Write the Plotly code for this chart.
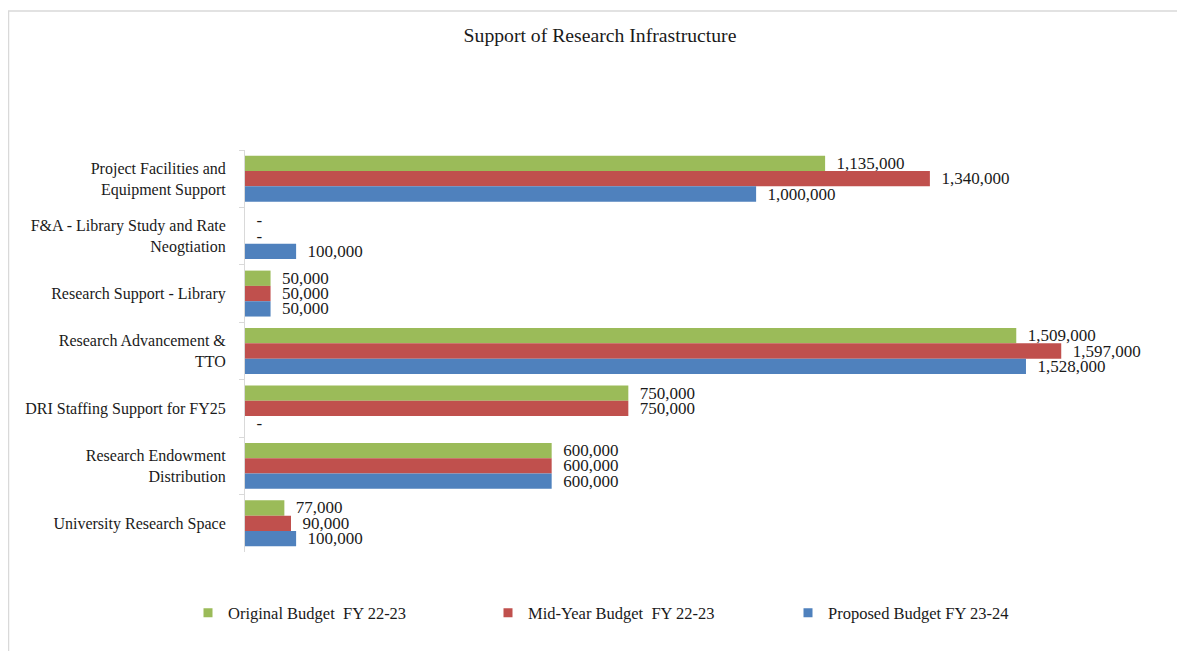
import plotly.graph_objects as go

categories = [
    "Project Facilities and<br>Equipment Support",
    "F&A - Library Study and Rate<br>Neogtiation",
    "Research Support - Library",
    "Research Advancement &<br>TTO",
    "DRI Staffing Support for FY25",
    "Research Endowment<br>Distribution",
    "University Research Space",
]
original_fy2223 = [1135000, 0, 50000, 1509000, 750000, 600000, 77000]
midyear_fy2223 = [1340000, 0, 50000, 1597000, 750000, 600000, 90000]
proposed_fy2324 = [1000000, 100000, 50000, 1528000, 0, 600000, 100000]

series = [
    ("Original Budget\u00a0 FY 22-23", original_fy2223, "#9BBB59"),
    ("Mid-Year Budget\u00a0 FY 22-23", midyear_fy2223, "#C0504D"),
    ("Proposed Budget FY 23-24", proposed_fy2324, "#4F81BD"),
]

FONT = "Liberation Serif, Times New Roman, serif"
TXT = "#1a1a1a"
# page is rendered with an 8px body margin
W, H = 1169, 643
L, R, T, B = 237, 12, 142, 99

def lab(v):
    return "\u00a0\u00a0" + (f"{v:,}" if v else "-")

fig = go.Figure()
for name, vals, col in series:
    fig.add_trace(go.Bar(
        name=name, y=categories, x=vals, orientation="h",
        marker=dict(color=col, line=dict(width=0)),
        text=[lab(v) for v in vals], textposition="outside",
        textfont=dict(family=FONT, size=17, color=TXT),
        constraintext="none", cliponaxis=False, hoverinfo="skip",
        showlegend=False,
    ))
# legend entries with small square swatches
for name, vals, col in series:
    fig.add_trace(go.Scatter(
        name=name, x=[None], y=[None], mode="markers",
        marker=dict(symbol="square", size=9, color=col), hoverinfo="skip",
    ))

pw = W - L - R
ph = H - T - B
fig.update_layout(
    width=W, height=H,
    margin=dict(l=L, r=R, t=T, b=B),
    paper_bgcolor="white", plot_bgcolor="white",
    barmode="group", bargap=0.2, bargroupgap=0,
    font=dict(family=FONT, size=16, color=TXT),
    title=dict(text="Support of Research Infrastructure", x=592 / W, xref="container",
               xanchor="center", y=1 - 27 / H, yref="container", yanchor="middle",
               font=dict(family=FONT, size=19.7, color=TXT)),
    xaxis=dict(visible=False, range=[0, 1800000], fixedrange=True),
    yaxis=dict(autorange="reversed", showline=True, linecolor="#d9d9d9", linewidth=1,
               ticks="outside", tickson="boundaries", ticklen=5, tickcolor="#d9d9d9",
               showgrid=False, ticklabelstandoff=15,
               tickfont=dict(family=FONT, size=16, color=TXT)),
    legend=dict(orientation="h", xref="container", yref="container",
                x=180 / W, xanchor="left", y=1 - 605 / H, yanchor="middle",
                entrywidth=255, entrywidthmode="pixels", itemwidth=30,
                traceorder="normal",
                font=dict(family=FONT, size=16.5, color=TXT)),
    showlegend=True,
)
fig.add_shape(type="rect", xref="paper", yref="paper",
              x0=(0.5 - L) / pw, x1=(W + 20 - L) / pw,
              y0=-(B + 20) / ph, y1=(H - B - 3) / ph,
              line=dict(color="#d9d9d9", width=1.5), fillcolor="rgba(0,0,0,0)", layer="below")
fig.write_html("out.html")
